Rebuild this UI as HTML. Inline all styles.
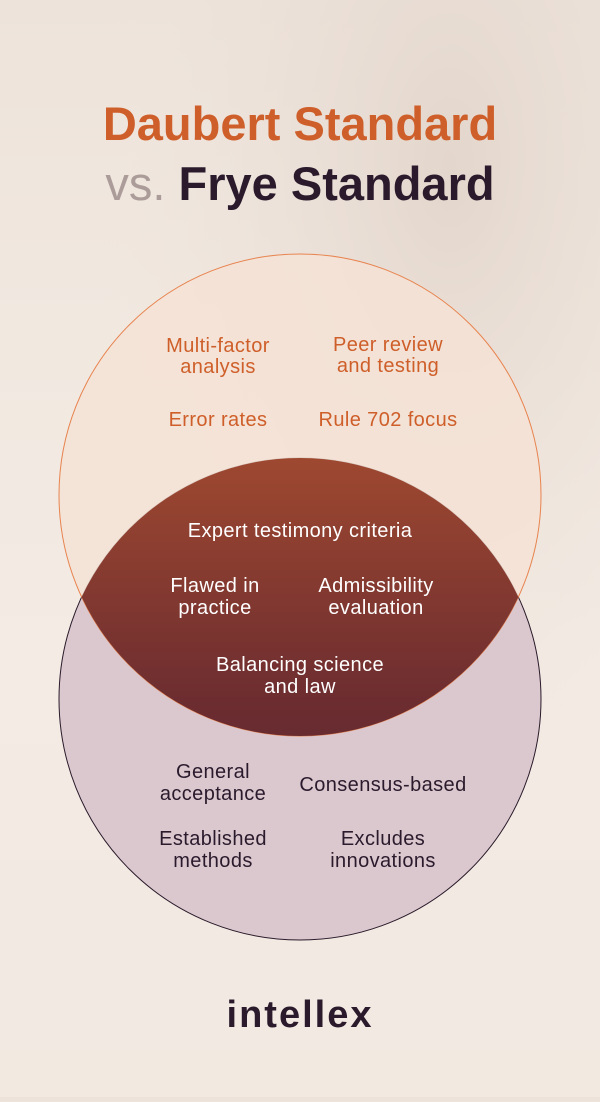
<!DOCTYPE html>
<html><head><meta charset="utf-8"><style>
html,body{margin:0;padding:0}
body{width:600px;height:1097px;overflow:hidden;background:linear-gradient(180deg,#ede3db 0%,#f1e8e0 30%,#f3ebe4 60%,#f2e9e1 100%);font-family:"Liberation Sans",sans-serif}
</style></head><body>
<svg width="600" height="1097" viewBox="0 0 600 1097" xmlns="http://www.w3.org/2000/svg">
<defs>
<radialGradient id="bg" cx="0.75" cy="0.15" r="0.6"><stop offset="0" stop-color="#e3d6cc"/><stop offset="1" stop-color="#efe6de" stop-opacity="0"/></radialGradient>
<linearGradient id="lens" x1="0" y1="0" x2="0" y2="1"><stop offset="0" stop-color="#9e4830"/><stop offset="0.5" stop-color="#6d2d30"/><stop offset="1" stop-color="#4a2030"/></linearGradient>
<clipPath id="c1"><circle cx="300" cy="495" r="241"/></clipPath>
</defs>
<rect width="600" height="1097" fill="url(#bg)"/>
<text x="300" y="140" text-anchor="middle" font-size="47" font-weight="bold" fill="#cf5f2a">Daubert Standard</text>
<text x="300" y="200" text-anchor="middle" font-size="47" font-weight="bold"><tspan fill="#ab9c99" font-weight="normal">vs. </tspan><tspan fill="#2a1a2c">Frye Standard</tspan></text>
<circle cx="300" cy="699" r="241" fill="#dac8ce" stroke="#2a1a2a" stroke-width="1"/>
<circle cx="300" cy="495" r="241" fill="#f5e2d5" fill-opacity="0.85" stroke="#e8834e" stroke-width="1"/>
<circle cx="300" cy="699" r="241" fill="url(#lens)" clip-path="url(#c1)"/>
<g font-size="20" text-anchor="middle" fill="#cf5f2a" letter-spacing="0.4">
<text x="218" y="352">Multi-factor</text><text x="218" y="373">analysis</text>
<text x="388" y="351">Peer review</text><text x="388" y="372">and testing</text>
<text x="218" y="426">Error rates</text>
<text x="388" y="426">Rule 702 focus</text>
</g>
<g font-size="20" text-anchor="middle" fill="#ffffff" letter-spacing="0.4">
<text x="300" y="537">Expert testimony criteria</text>
<text x="215" y="592">Flawed in</text><text x="215" y="614">practice</text>
<text x="376" y="592">Admissibility</text><text x="376" y="614">evaluation</text>
<text x="300" y="671">Balancing science</text><text x="300" y="693">and law</text>
</g>
<g font-size="20" text-anchor="middle" fill="#2a1a2c" letter-spacing="0.4">
<text x="213" y="778">General</text><text x="213" y="800">acceptance</text>
<text x="383" y="791">Consensus-based</text>
<text x="213" y="845">Established</text><text x="213" y="867">methods</text>
<text x="383" y="845">Excludes</text><text x="383" y="867">innovations</text>
</g>
<text x="300" y="1027" text-anchor="middle" font-size="38" font-weight="bold" fill="#2a1a2c" letter-spacing="2">intellex</text>
</svg>
</body></html>
